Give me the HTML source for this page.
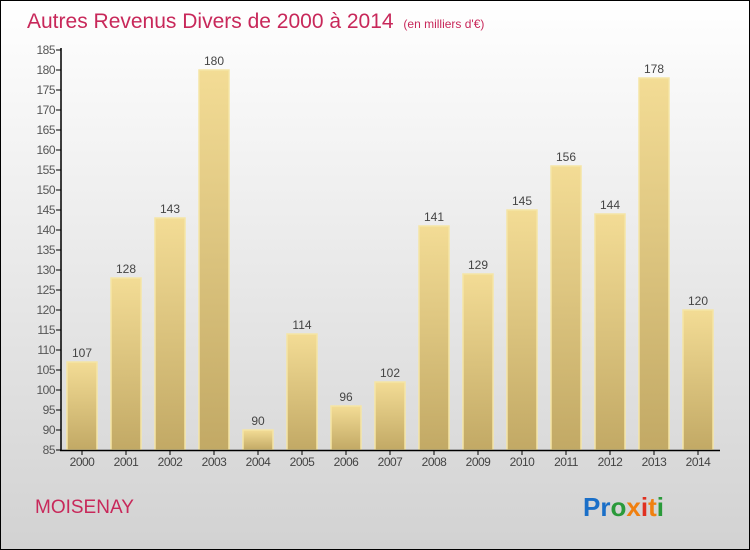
<!DOCTYPE html>
<html><head><meta charset="utf-8"><style>
body{margin:0}
svg{display:block;font-family:"Liberation Sans",sans-serif}
</style></head><body>
<svg id="c" width="750" height="550">
<defs>
<linearGradient id="bg" x1="0" y1="0" x2="0" y2="1"><stop offset="0" stop-color="#ffffff"/><stop offset="1" stop-color="#d2d2d2"/></linearGradient>
<linearGradient id="bar" x1="0" y1="0" x2="0" y2="1"><stop offset="0" stop-color="#f3dc95"/><stop offset="1" stop-color="#c2a965"/></linearGradient>
</defs>
<rect x="0.5" y="0.5" width="749" height="549" fill="url(#bg)" stroke="#000"/>
<text x="27" y="28" font-size="21" fill="#c8285a">Autres Revenus Divers de 2000 à 2014 <tspan font-size="12" dx="4">(en milliers d'€)</tspan></text>
<text x="35" y="513" font-size="19" fill="#c8285a">MOISENAY</text>
<g font-size="26" font-weight="bold">
<text x="583" y="516"><tspan fill="#1a6fc8">Pr</tspan><tspan fill="#2a9a3a">o</tspan><tspan fill="#f08010">x</tspan><tspan fill="#e03020">i</tspan><tspan fill="#f08010">t</tspan><tspan fill="#2a9a3a">i</tspan></text>
</g>
<g id="plot"></g>
</svg>
<script>
const years=["2000","2001","2002","2003","2004","2005","2006","2007","2008","2009","2010","2011","2012","2013","2014"];
const values=[107,128,143,180,90,114,96,102,141,129,145,156,144,178,120];
const yTicks=[85,90,95,100,105,110,115,120,125,130,135,140,145,150,155,160,165,170,175,180,185];
const ns="http://www.w3.org/2000/svg";
const g=document.getElementById('plot');
const y=v=>450-(v-85)*4;
const x=i=>82+i*44;
function mk(t,a){const e=document.createElementNS(ns,t);for(const k in a)e.setAttribute(k,a[k]);g.appendChild(e);return e;}
yTicks.forEach(t=>{
 const l=mk('line',{x1:56,x2:61,y1:y(t),y2:y(t),stroke:'#000'});
 
 
 const tx=mk('text',{x:55,y:y(t)+4,'font-size':12,fill:'#555','text-anchor':'end','letter-spacing':'-0.5'});
 tx.textContent=t;
 
 
});
years.forEach((yr,i)=>{
 const b=mk('rect',{x:x(i)-15,y:y(values[i]),width:30,height:450-y(values[i]),fill:'url(#bar)',stroke:'#f5e5a5','stroke-width':1.5});
 
 
 const v=mk('text',{x:x(i),y:y(values[i])-5,'font-size':12,fill:'#444','text-anchor':'middle'});
 v.textContent=values[i];
 
 
 const tk=mk('line',{x1:x(i),x2:x(i),y1:450,y2:455,stroke:'#000'});
 
 
 const xl=mk('text',{x:x(i),y:466,'font-size':12,fill:'#444','text-anchor':'middle','letter-spacing':'-0.5'});
 xl.textContent=yr;
 
 
});
const ya=mk('line',{x1:61,x2:61,y1:48,y2:451,stroke:'#000','stroke-width':1.5});


const xa=mk('line',{x1:60,x2:720,y1:450.5,y2:450.5,stroke:'#000','stroke-width':1.5});


</script>
</body></html>
